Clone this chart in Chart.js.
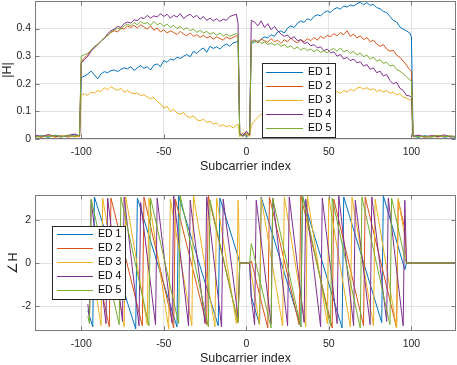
<!DOCTYPE html>
<html>
<head>
<meta charset="utf-8">
<script src="https://cdn.jsdelivr.net/npm/chart.js@4/dist/chart.umd.min.js"></script>
<style>
  body { margin: 0; background: #fff; }
  #wrap { position: relative; width: 457px; height: 365px; }
  canvas { position: absolute; left: 0; }
</style>
</head>
<body>
<div id="wrap">
  <canvas id="magChart" width="457" height="180" style="top:0"></canvas>
  <canvas id="phaseChart" width="457" height="185" style="top:180px"></canvas>
</div>
<script>
const seriesNames = ['ED 1', 'ED 2', 'ED 3', 'ED 4', 'ED 5'];
const seriesColors = ['#0072BD', '#D95319', '#EDB120', '#7E2F8E', '#77AC30'];
const xTicks = [-100, -50, 0, 50, 100];
const magTicks = [0, 0.1, 0.2, 0.3, 0.4];
const phaseTicks = [-2, 0, 2];

// subcarrier indices for |H|
const magX = [-128,-124,-120,-116,-112,-108,-104,-101,
  -100,-98,-96,-94,-92,-90,-88,-86,-84,-82,
  -80,-78,-76,-74,-72,-70,-68,-66,-64,-62,
  -60,-58,-56,-54,-52,-50,-48,-46,-44,-42,
  -40,-38,-36,-34,-32,-30,-28,-26,-24,-22,
  -20,-18,-16,-14,-12,-10,-8,-6,
  -5, -4,-2,0,2,
  3,5,7,9,11,13,15,17,19,21,
  23,25,27,29,31,33,35,37,39,41,
  43,45,47,49,51,53,55,57,59,61,
  63,65,67,69,71,73,75,77,79,81,
  83,85,87,89,91,93,95,97,99,
  100, 101,104,108,112,116,120,124,127];

const magED1 = [0.008,0.012,0.006,0.014,0.009,0.011,0.015,0.010,
  0.222,0.228,0.236,0.246,0.232,0.218,0.236,0.244,0.240,0.248,
  0.250,0.244,0.252,0.258,0.254,0.262,0.248,0.258,0.266,0.256,
  0.262,0.250,0.268,0.272,0.262,0.284,0.278,0.290,0.286,0.296,
  0.292,0.300,0.306,0.298,0.318,0.310,0.322,0.330,0.314,0.336,
  0.328,0.334,0.326,0.338,0.344,0.336,0.348,0.352,
  0.356, 0.012,0.020,0.008,0.016,
  0.342,0.356,0.350,0.362,0.370,0.366,0.378,0.372,0.388,0.392,
  0.384,0.402,0.410,0.404,0.420,0.428,0.422,0.436,0.430,0.444,
  0.450,0.446,0.458,0.464,0.458,0.470,0.476,0.470,0.482,0.478,
  0.486,0.482,0.490,0.496,0.486,0.494,0.484,0.488,0.476,0.472,
  0.462,0.458,0.444,0.430,0.424,0.406,0.398,0.392,0.384,
  0.370, 0.010,0.006,0.012,0.008,0.011,0.007,0.009,0.006];

const magED2 = [0.010,0.006,0.013,0.008,0.012,0.007,0.011,0.009,
  0.280,0.294,0.306,0.322,0.334,0.344,0.356,0.366,0.376,0.386,
  0.392,0.388,0.402,0.398,0.410,0.404,0.412,0.402,0.414,0.406,
  0.398,0.410,0.394,0.402,0.388,0.396,0.384,0.392,0.386,0.378,
  0.390,0.380,0.374,0.384,0.372,0.378,0.368,0.376,0.366,0.372,
  0.362,0.370,0.364,0.358,0.370,0.362,0.368,0.374,
  0.370, 0.018,0.010,0.022,0.012,
  0.352,0.360,0.348,0.362,0.356,0.350,0.364,0.352,0.358,0.346,
  0.360,0.352,0.366,0.354,0.348,0.360,0.352,0.364,0.356,0.368,
  0.358,0.372,0.364,0.376,0.370,0.382,0.374,0.386,0.378,0.392,
  0.372,0.380,0.366,0.374,0.360,0.368,0.352,0.358,0.344,0.336,
  0.342,0.326,0.318,0.322,0.304,0.296,0.282,0.268,0.250,
  0.245, 0.008,0.012,0.006,0.010,0.013,0.008,0.011,0.007];

const magED3 = [0.012,0.008,0.015,0.006,0.010,0.014,0.007,0.011,
  0.160,0.164,0.158,0.170,0.166,0.176,0.172,0.186,0.178,0.190,
  0.182,0.176,0.184,0.170,0.176,0.168,0.164,0.166,0.158,0.160,
  0.152,0.146,0.150,0.136,0.128,0.112,0.118,0.100,0.108,0.094,
  0.090,0.096,0.082,0.078,0.084,0.070,0.066,0.072,0.060,0.064,
  0.054,0.058,0.046,0.052,0.044,0.048,0.040,0.050,
  0.054, 0.008,0.024,0.014,0.010,
  0.050,0.066,0.078,0.090,0.088,0.096,0.100,0.106,0.104,0.112,
  0.118,0.116,0.124,0.130,0.128,0.136,0.140,0.138,0.146,0.150,
  0.148,0.156,0.160,0.158,0.164,0.160,0.172,0.166,0.176,0.170,
  0.180,0.174,0.184,0.188,0.180,0.186,0.178,0.182,0.172,0.178,
  0.170,0.176,0.166,0.170,0.160,0.164,0.152,0.148,0.142,
  0.140, 0.009,0.013,0.007,0.011,0.006,0.012,0.008,0.010];

const magED4 = [0.014,0.009,0.016,0.011,0.007,0.013,0.018,0.012,
  0.275,0.288,0.300,0.318,0.330,0.342,0.356,0.364,0.382,0.392,
  0.398,0.408,0.404,0.418,0.424,0.420,0.432,0.428,0.440,0.436,
  0.448,0.438,0.446,0.442,0.454,0.444,0.452,0.438,0.448,0.442,
  0.454,0.436,0.446,0.452,0.440,0.448,0.434,0.444,0.430,0.438,
  0.428,0.436,0.426,0.434,0.430,0.444,0.448,0.452,
  0.418, 0.020,0.012,0.028,0.015,
  0.430,0.424,0.410,0.428,0.404,0.418,0.396,0.408,0.392,0.380,
  0.372,0.376,0.364,0.370,0.356,0.360,0.346,0.350,0.338,0.342,
  0.330,0.334,0.320,0.326,0.312,0.316,0.300,0.306,0.290,0.296,
  0.284,0.290,0.276,0.280,0.264,0.270,0.252,0.258,0.240,0.246,
  0.228,0.234,0.212,0.200,0.206,0.184,0.176,0.158,0.156,
  0.150, 0.010,0.014,0.008,0.012,0.009,0.015,0.007,0.011];

const magED5 = [0.006,0.011,0.009,0.013,0.008,0.012,0.010,0.014,
  0.300,0.306,0.310,0.322,0.336,0.342,0.354,0.368,0.374,0.388,
  0.394,0.402,0.398,0.410,0.416,0.410,0.422,0.414,0.426,0.418,
  0.422,0.412,0.426,0.414,0.420,0.408,0.416,0.404,0.412,0.400,
  0.408,0.396,0.404,0.392,0.398,0.386,0.394,0.384,0.390,0.380,
  0.386,0.376,0.384,0.374,0.380,0.372,0.378,0.382,
  0.378, 0.016,0.009,0.018,0.022,
  0.355,0.350,0.358,0.346,0.352,0.342,0.348,0.340,0.346,0.336,
  0.342,0.332,0.338,0.326,0.334,0.322,0.330,0.320,0.326,0.316,
  0.324,0.314,0.320,0.312,0.322,0.328,0.318,0.330,0.316,0.322,
  0.310,0.318,0.304,0.312,0.298,0.304,0.290,0.296,0.282,0.288,
  0.274,0.278,0.264,0.268,0.252,0.246,0.236,0.226,0.214,
  0.210, 0.012,0.008,0.010,0.006,0.013,0.009,0.011,0.008];

// angle(H): corners of each sawtooth
const phaseED1X = [-96,-93,-92,-67,-66,-42,-41,-17,-16,-5,-4,2,3,8,9,33,34,58,59,82,83,96,97,127];
const phaseED1Y = [-2.2,-2.95,3.05,-3.05,3.0,-2.95,3.1,-2.9,3.0,0.3,0,0,-1.55,-2.85,3.05,-2.95,3.1,-3.0,3.05,-2.75,3.1,-0.3,0,0];

const phaseED2X = [-96,-83,-82,-63,-62,-44,-43,-24,-23,-5,-4,2,3,13,14,32,33,52,53,71,72,91,92,96,97,127];
const phaseED2Y = [1.7,-2.95,3.0,-2.9,3.05,-3.0,2.95,-2.85,3.1,-2.75,0,0,0.1,-3.0,3.05,-2.85,3.1,-3.0,2.95,-2.9,3.05,-3.0,2.9,1.6,0,0];

const phaseED3X = [-96,-88,-87,-74,-73,-60,-59,-47,-46,-33,-32,-19,-18,-6,-5,-4,2,3,8,9,22,23,36,37,49,50,63,64,77,78,91,92,96,97,127];
const phaseED3Y = [1.1,-2.9,3.0,-2.95,3.05,-2.85,3.0,-3.05,2.95,-2.9,3.1,-2.95,3.0,-2.8,2.9,0,0,-0.5,-2.85,3.0,-2.9,3.05,-2.95,3.1,-2.8,3.0,-2.95,3.05,-2.9,2.95,-3.0,3.0,1.2,0,0];

const phaseED4X = [-96,-95,-94,-85,-84,-75,-74,-65,-64,-55,-54,-45,-44,-35,-34,-25,-24,-15,-14,-5,-4,2,3,5,6,15,16,25,26,35,36,45,46,55,56,65,66,75,76,85,86,95,96,97,127];
const phaseED4Y = [-1.9,-2.6,2.9,-2.8,3.0,-2.7,3.05,-2.9,2.8,-2.85,3.0,-2.75,3.1,-2.9,2.9,-2.8,3.05,-2.95,2.95,-2.5,0,0,-1.6,-2.85,2.9,-2.8,3.0,-2.9,3.05,-2.75,2.95,-2.95,3.0,-2.8,3.1,-2.9,2.9,-2.85,3.05,-2.7,3.0,-2.9,2.9,0,0];

const phaseED5X = [-96,-95,-94,-77,-76,-59,-58,-41,-40,-23,-22,-5,-4,2,3,15,16,33,34,51,52,69,70,87,88,96,97,127];
const phaseED5Y = [-2.45,-2.8,2.95,-2.85,3.05,-2.9,3.0,-2.8,3.1,-2.95,2.9,-2.75,0,0,0.9,-3.0,3.0,-2.95,3.1,-2.9,3.0,-3.0,3.05,-2.85,3.0,0.2,0,0];

const magSeries = [magED1, magED2, magED3, magED4, magED5];
const phaseSeries = [
  [phaseED1X, phaseED1Y], [phaseED2X, phaseED2Y], [phaseED3X, phaseED3Y],
  [phaseED4X, phaseED4Y], [phaseED5X, phaseED5Y]
];

const fontFamily = '"Liberation Sans", Arial, Helvetica, sans-serif';
const textColor = '#262626';
const gridColor = '#e3e3e3';
const boxColor = '#7a7a7a';

// box, inward tick marks and the legend inside the axes
const axesDecor = {
  id: 'axesDecor',
  afterDraw(chart, args, opts) {
    const ctx = chart.ctx;
    const ca = chart.chartArea;
    const l = Math.round(ca.left) + 0.5, r = Math.round(ca.right) - 0.5;
    const t = Math.round(ca.top) + 0.5, b = Math.round(ca.bottom) - 0.5;
    ctx.save();
    ctx.lineWidth = 1;
    ctx.strokeStyle = boxColor;
    ctx.beginPath();
    chart.scales.x.ticks.forEach(tk => {
      const px = Math.round(chart.scales.x.getPixelForValue(tk.value)) + 0.5;
      ctx.moveTo(px, b); ctx.lineTo(px, b - 4);
      ctx.moveTo(px, t); ctx.lineTo(px, t + 4);
    });
    chart.scales.y.ticks.forEach(tk => {
      const py = Math.round(chart.scales.y.getPixelForValue(tk.value)) + 0.5;
      ctx.moveTo(l, py); ctx.lineTo(l + 4, py);
      ctx.moveTo(r, py); ctx.lineTo(r - 4, py);
    });
    ctx.stroke();
    ctx.strokeRect(l, t, r - l, b - t);

    // legend
    ctx.fillStyle = '#ffffff';
    ctx.fillRect(opts.x, opts.y, opts.w, opts.h);
    ctx.strokeStyle = '#262626';
    ctx.strokeRect(opts.x + 0.5, opts.y + 0.5, opts.w, opts.h);
    ctx.font = '10.5px ' + fontFamily;
    ctx.textBaseline = 'middle';
    for (let i = 0; i < seriesNames.length; i++) {
      const y = Math.round(opts.y + opts.row0 + i * opts.rowGap);
      ctx.fillStyle = seriesColors[i];
      ctx.fillRect(opts.x + opts.line0, y, opts.line1 - opts.line0, 1);
      ctx.fillStyle = '#000000';
      ctx.fillText(seriesNames[i], opts.x + opts.textX, y + 0.5);
    }
    ctx.restore();
  }
};

function makeOptions(cfg) {
  return {
    responsive: false,
    animation: false,
    devicePixelRatio: 1,
    layout: { padding: { top: cfg.padTop, right: 1, left: 0, bottom: 0 } },
    plugins: {
      legend: { display: false },
      tooltip: { enabled: false },
      axesDecor: cfg.legend
    },
    scales: {
      x: {
        type: 'linear',
        min: -128,
        max: 127,
        afterBuildTicks: s => { s.ticks = xTicks.map(v => ({ value: v })); },
        afterFit: s => { s.height = cfg.xHeight; s.paddingLeft = 0; s.paddingRight = 0; },
        grid: { color: gridColor, drawTicks: false },
        border: { display: false },
        ticks: { color: textColor, font: { family: fontFamily, size: 10.5 }, padding: 7, maxRotation: 0, autoSkip: false },
        title: {
          display: true, text: 'Subcarrier index', color: textColor,
          font: { family: fontFamily, size: 12.5, lineHeight: 1 },
          padding: { top: 0, bottom: cfg.xTitlePad }
        }
      },
      y: {
        type: 'linear',
        min: cfg.yMin,
        max: cfg.yMax,
        afterBuildTicks: s => { s.ticks = cfg.yTicks.map(v => ({ value: v })); },
        afterFit: s => { s.width = 35; s.paddingTop = 0; s.paddingBottom = 0; },
        grid: { color: gridColor, drawTicks: false },
        border: { display: false },
        ticks: { color: textColor, font: { family: fontFamily, size: 10.5 }, padding: 4 },
        title: {
          display: true, text: cfg.yTitle, color: textColor,
          font: { family: fontFamily, size: 12.5, lineHeight: 1 },
          padding: { top: cfg.yTitlePad, bottom: 0 }
        }
      }
    }
  };
}

function lineDataset(i, points) {
  return {
    label: seriesNames[i],
    data: points,
    borderColor: seriesColors[i],
    backgroundColor: seriesColors[i],
    borderWidth: 1,
    pointRadius: 0,
    tension: 0,
    fill: false,
    order: 5 - i
  };
}

new Chart(document.getElementById('magChart'), {
  type: 'line',
  data: {
    datasets: magSeries.map((ys, i) => lineDataset(i, magX.map((x, k) => ({ x: x, y: ys[k] }))))
  },
  options: makeOptions({
    padTop: 1, xHeight: 41, xTitlePad: 7, yMin: 0, yMax: 0.5, yTicks: magTicks,
    yTitle: '|H|', yTitlePad: 1,
    legend: { x: 262, y: 63, w: 73, h: 74, row0: 9, rowGap: 14, line0: 4, line1: 41, textX: 46 }
  }),
  plugins: [axesDecor]
});

new Chart(document.getElementById('phaseChart'), {
  type: 'line',
  data: {
    datasets: phaseSeries.map((p, i) => lineDataset(i, p[0].map((x, k) => ({ x: x, y: p[1][k] }))))
  },
  options: makeOptions({
    padTop: 15, xHeight: 34, xTitlePad: 0, yMin: -Math.PI, yMax: Math.PI, yTicks: phaseTicks,
    yTitle: '∠H', yTitlePad: 7,
    legend: { x: 52, y: 46, w: 73, h: 73, row0: 8, rowGap: 14, line0: 5, line1: 41, textX: 46 }
  }),
  plugins: [axesDecor]
});
</script>
</body>
</html>
